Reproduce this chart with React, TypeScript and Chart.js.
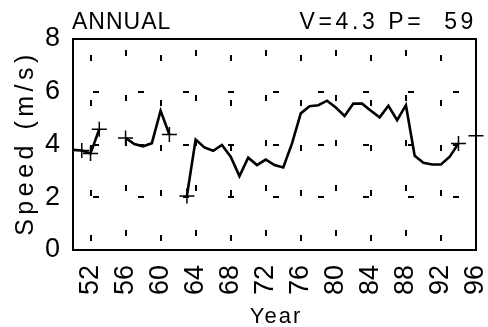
import React, { useEffect, useRef } from "react";
import { Chart, registerables } from "chart.js";

Chart.register(...registerables);

const years = [
  50, 51, 52, 53, 54, 55, 56, 57, 58, 59, 60, 61, 62, 63, 64, 65, 66, 67, 68, 69, 70, 71, 72, 73,
  74, 75, 76, 77, 78, 79, 80, 81, 82, 83, 84, 85, 86, 87, 88, 89, 90, 91, 92, 93, 94, 95, 96,
];
const speed: (number | null)[] = [
  3.8, 3.77, 3.66, 4.58, null, null, 4.25, 4.02, 3.93, 4.05, 5.28, 4.38, null, 2.05, 4.19, 3.89,
  3.76, 3.98, 3.54, 2.8, 3.5, 3.22, 3.43, 3.22, 3.13, 4.04, 5.18, 5.45, 5.49, 5.66, 5.4, 5.08,
  5.55, 5.55, 5.28, 5.03, 5.47, 4.92, 5.49, 3.57, 3.31, 3.24, 3.24, 3.54, 4.04, null, 4.33,
];
const crossYears = [51, 52, 53, 56, 61, 63, 94, 96];
const xTickYears = [52, 56, 60, 64, 68, 72, 76, 80, 84, 88, 92, 96];
const yTickValues = [0, 2, 4, 6, 8];
const titleLeft = "ANNUAL";
const titleRight = "V=4.3 P=  59";
const yAxisTitle = "Speed (m/s)";
const xAxisTitle = "Year";

const FONT = '"Liberation Sans", Arial, Helvetica, sans-serif';

export default function App() {
  const ref = useRef<HTMLCanvasElement | null>(null);

  useEffect(() => {
    const canvas = ref.current;
    if (!canvas) return;

    const lineData = years.map((yr, i) => ({ x: yr, y: speed[i] }));
    const crossData = crossYears.map((yr) => ({ x: yr, y: speed[years.indexOf(yr)] }));

    const framePlugin = {
      id: "frameAndTitles",
      afterDraw(chart: any) {
        const { ctx, chartArea } = chart;
        const { left, top, right, bottom } = chartArea;
        ctx.save();
        ctx.strokeStyle = "#000";
        ctx.lineWidth = 2;
        ctx.setLineDash([]);
        ctx.strokeRect(left, top, right - left, bottom - top);

        ctx.fillStyle = "#000";
        ctx.font = `23px ${FONT}`;
        ctx.textBaseline = "alphabetic";
        (ctx as any).letterSpacing = "1px";
        ctx.textAlign = "left";
        ctx.fillText(titleLeft, left - 1, 29);
        (ctx as any).letterSpacing = "3.6px";
        ctx.textAlign = "right";
        ctx.fillText(titleRight, 477, 29);

        (ctx as any).letterSpacing = "2px";
        ctx.font = `22px ${FONT}`;
        ctx.textAlign = "center";
        ctx.fillText(xAxisTitle, 276, 323);

        ctx.save();
        ctx.translate(33, 143);
        ctx.rotate(-Math.PI / 2);
        ctx.font = `25px ${FONT}`;
        (ctx as any).letterSpacing = "4.5px";
        ctx.textAlign = "center";
        ctx.textBaseline = "alphabetic";
        ctx.fillText(yAxisTitle, 0, 0);
        ctx.restore();
        ctx.restore();
      },
    };

    const chart = new Chart(canvas, {
      type: "line",
      data: {
        datasets: [
          {
            data: lineData as any,
            borderColor: "#000",
            borderWidth: 2.6,
            pointRadius: 0,
            spanGaps: false,
            tension: 0,
            fill: false,
          },
          {
            data: crossData as any,
            showLine: false,
            pointStyle: "cross",
            pointRadius: 7.5,
            pointBorderWidth: 1.5,
            pointBorderColor: "#000",
            pointBackgroundColor: "#000",
            clip: false as any,
          },
        ],
      },
      options: {
        animation: false,
        responsive: false,
        maintainAspectRatio: false,
        events: [],
        layout: { padding: { top: 39, right: 12, left: 0, bottom: 0 } },
        plugins: {
          legend: { display: false },
          tooltip: { enabled: false },
          title: { display: false },
        },
        scales: {
          x: {
            type: "linear",
            min: 50,
            max: 96,
            afterBuildTicks: (scale: any) => {
              scale.ticks = xTickYears.map((v) => ({ value: v }));
            },
            afterFit: (scale: any) => {
              scale.height = 77;
              scale.paddingLeft = 0;
              scale.paddingRight = 0;
            },
            ticks: {
              autoSkip: false,
              minRotation: 90,
              maxRotation: 90,
              padding: 15,
              color: "#000",
              font: { family: FONT, size: 27 },
              callback: (v: any) => String(v),
            },
            grid: {
              color: "#000",
              lineWidth: 2,
              drawTicks: false,
            },
            border: {
              display: false,
              dash: [6, 39],
              dashOffset: (ctx: any) => (ctx.index % 2 === 0 ? 29 : 34),
            },
          },
          y: {
            type: "linear",
            min: 0,
            max: 8,
            afterBuildTicks: (scale: any) => {
              scale.ticks = yTickValues.map((v) => ({ value: v }));
            },
            afterFit: (scale: any) => {
              scale.width = 73;
              scale.paddingTop = 0;
              scale.paddingBottom = 0;
            },
            ticks: {
              padding: 13,
              color: "#000",
              font: { family: FONT, size: 27 },
              callback: (v: any) => String(v),
            },
            grid: {
              color: "#000",
              lineWidth: 2,
              drawTicks: false,
            },
            border: {
              display: false,
              dash: [6, 39],
              dashOffset: 25,
            },
          },
        },
      },
      plugins: [framePlugin],
    });

    return () => chart.destroy();
  }, []);

  return (
    <div style={{ position: "absolute", left: 0, top: 0, width: 488, height: 327, background: "#fff" }}>
      <canvas ref={ref} width={488} height={327} style={{ display: "block", width: 488, height: 327 }} />
    </div>
  );
}
